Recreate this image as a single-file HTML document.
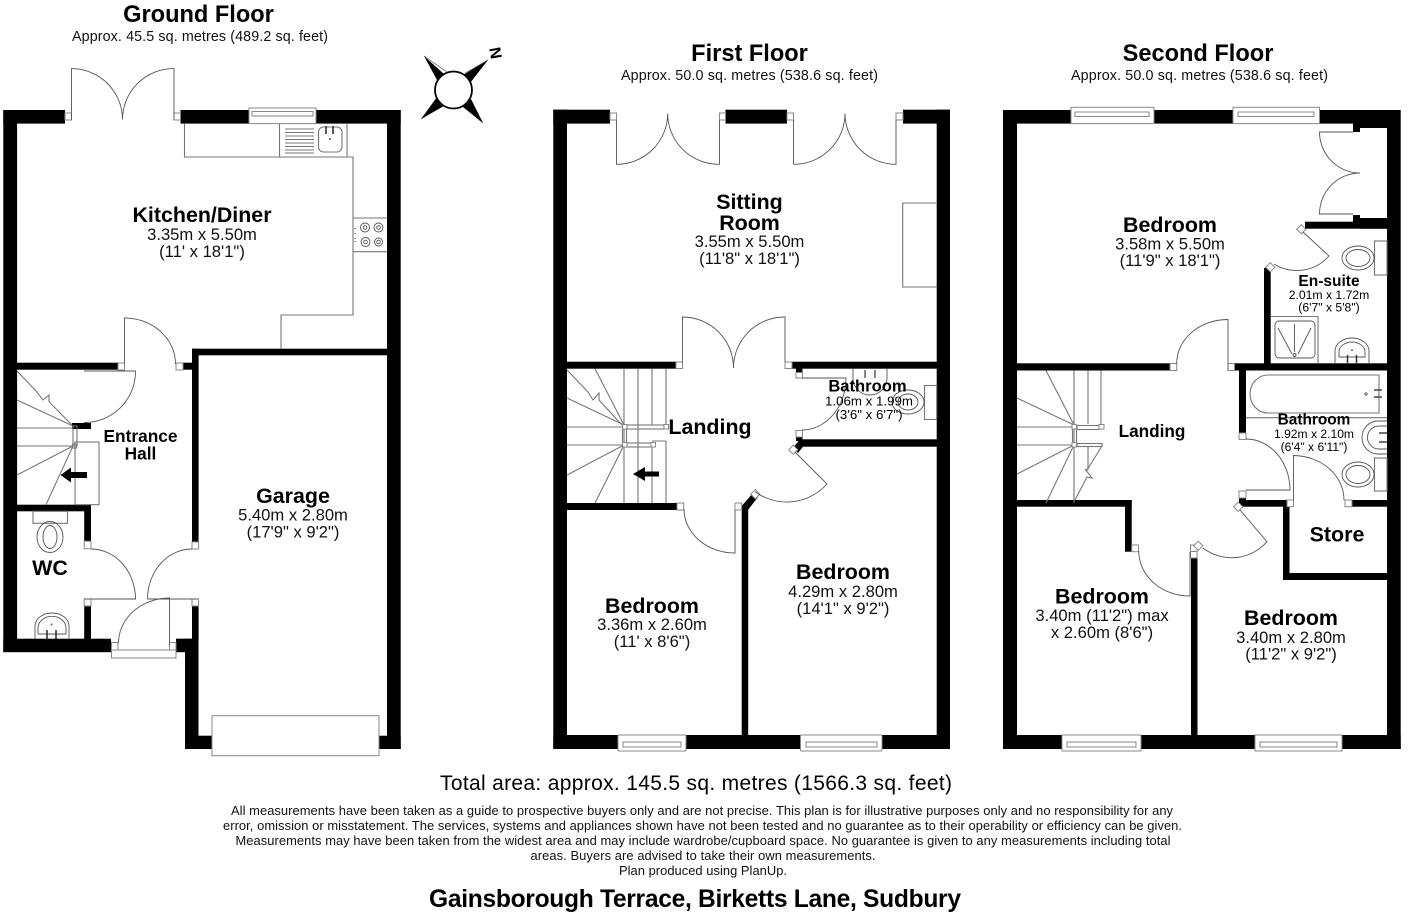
<!DOCTYPE html>
<html><head><meta charset="utf-8"><style>
html,body{margin:0;padding:0;background:#fff;width:1408px;height:912px;overflow:hidden}
svg{display:block}
text{font-family:"Liberation Sans",sans-serif;fill:#000;text-anchor:middle}
.b{font-weight:bold}
.w{fill:#000}
.l{fill:none;stroke:#777;stroke-width:1.1}
.j{fill:#fff;stroke:#888;stroke-width:1}
.d{fill:none;stroke:#555;stroke-width:.9}
.r{font-size:21.4px;font-weight:bold}
.s{font-size:16.6px;fill:#111}
.ti{font-size:23.6px;font-weight:bold}
.ap{font-size:14.3px;fill:#111}
.ds{font-size:12.9px;fill:#111}
</style></head><body>
<svg width="1408" height="912" viewBox="0 0 1408 912" xmlns="http://www.w3.org/2000/svg">

<!-- ================= GROUND FLOOR ================= -->
<g class="w">
<rect x="3.3" y="110" width="13.8" height="542"/>
<rect x="3.3" y="110" width="61.7" height="13.6"/>
<rect x="180.5" y="110" width="68.5" height="13.6"/>
<rect x="316" y="110" width="84.7" height="13.6"/>
<rect x="387" y="110" width="13.7" height="639"/>
<rect x="192" y="348.7" width="195" height="6.6"/>
<rect x="192" y="348.7" width="6.6" height="193.5"/>
<rect x="17" y="362.7" width="101" height="7"/>
<rect x="183" y="362.7" width="9" height="7"/>
<rect x="17" y="504.7" width="74" height="6.6"/>
<rect x="84.2" y="504.7" width="6.8" height="36.5"/>
<rect x="84.2" y="606" width="6.8" height="33"/>
<rect x="3.3" y="638.7" width="107.7" height="13.5"/>
<rect x="176" y="638.7" width="22.5" height="13.5"/>
<rect x="192" y="606" width="6.6" height="33"/>
<rect x="185" y="638.7" width="13.5" height="110.3"/>
<rect x="185" y="735.7" width="27" height="13.3"/>
<rect x="379" y="735.7" width="21.7" height="13.3"/>
<rect x="72" y="423" width="19" height="6"/>
</g>
<!-- jambs -->
<rect class="j" x="65" y="113" width="6.5" height="7"/>
<rect class="j" x="174" y="113" width="6.5" height="7"/>
<rect class="j" x="118" y="363" width="6.5" height="7"/>
<rect class="j" x="176" y="363" width="7" height="7"/>
<rect class="j" x="84.2" y="541.2" width="6.8" height="7.5"/>
<rect class="j" x="84.2" y="599" width="6.8" height="7"/>
<rect class="j" x="192" y="542" width="6.6" height="7"/>
<rect class="j" x="192" y="599" width="6.6" height="7"/>
<rect class="j" x="111.5" y="642.5" width="6.5" height="7.5"/>
<rect class="j" x="169.5" y="642.5" width="6.5" height="7.5"/>
<!-- doors -->
<path class="d" d="M71.5 120V68.6A51 51 0 0 1 122.5 119.5M174 120V68.6A51 51 0 0 0 122.5 119.5"/>
<path class="d" d="M124.5 364V318A51 46 0 0 1 175.5 364"/>
<path class="d" d="M84 371H135.5A51 51 0 0 1 84 422.5"/>
<path class="d" d="M91 549A44.5 50 0 0 1 135.5 599H84M198 599H147.5M192 549A44.5 50 0 0 0 147.5 599"/>
<path class="d" d="M118.5 643A51 45 0 0 1 169.5 598V645"/>
<!-- window top ground -->
<rect class="j" x="249" y="108" width="67" height="15.6"/>
<rect class="j" x="252" y="111.5" width="61" height="4.5"/>
<!-- front window -->
<rect class="j" x="111.5" y="650" width="64.5" height="8"/>
<!-- garage door -->
<rect class="j" x="212" y="715.7" width="167" height="40"/>
<!-- kitchen units -->
<path class="l" d="M184.5 123.6V157H353V315H281V349"/>
<path class="l" d="M279.5 124V157M347 124V157M353 218H387M353 251.7H387"/>
<path d="M285 129H314M285 132.5H314M285 136H314M285 139.5H314M285 143H314M285 146.5H314M285 150H314M285 153H314" stroke="#777" stroke-width=".9"/>
<rect class="l" x="318.5" y="127" width="23.5" height="25" rx="5"/>
<path d="M326 126V134M333 126V134" stroke="#333" stroke-width="1.6"/>
<circle cx="330" cy="139" r="1" fill="#555"/>
<g class="d"><circle cx="365" cy="227.5" r="4.5"/><circle cx="365" cy="227.5" r="1.8"/><circle cx="378.5" cy="227.5" r="4.5"/><circle cx="378.5" cy="227.5" r="1.8"/><circle cx="365.5" cy="242" r="4.5"/><circle cx="365.5" cy="242" r="1.8"/><circle cx="378.5" cy="242" r="4"/><circle cx="378.5" cy="242" r="1.8"/></g>
<path d="M355 228v1M355 233v1M355 238v1M355 241v1" stroke="#444" stroke-width="1.1"/>
<!-- stairs ground -->
<g class="l">
<path d="M17 371L36.700 391.700L43 400L49 395L49 401.700L72 425"/>
<path d="M73 426L17 400M73 428H17M73 446H17M73 446L17 475M73 446L46 504.7"/>
<rect x="75" y="442" width="24" height="62.7"/>
<rect x="73" y="426" width="4" height="20"/>
<rect x="72.5" y="444" width="4" height="4"/>
</g>
<path d="M87 472H71V467.5L60.5 475L71 482.5V478H87Z" fill="#000"/>
<!-- WC -->
<rect class="l" x="33" y="511.3" width="34.5" height="12"/>
<ellipse class="d" cx="50" cy="537" rx="13" ry="15.5"/>
<ellipse class="d" cx="50" cy="537" rx="7" ry="11.5"/>
<path class="d" d="M35 639V626A17 13 0 0 1 69 626V639"/>
<path class="d" d="M38 634V628A12 10 0 0 1 66 628V634H38"/>
<path d="M47 630V639M56 630V639" stroke="#333" stroke-width="1.6"/>
<circle cx="51.5" cy="624.5" r="1" fill="#666"/>

<!-- ================= FIRST FLOOR ================= -->
<g class="w">
<rect x="553.3" y="109.7" width="13.7" height="639.3"/>
<rect x="553.3" y="109.7" width="56.7" height="13.9"/>
<rect x="725.5" y="109.7" width="61.5" height="13.9"/>
<rect x="903" y="109.7" width="47" height="13.9"/>
<rect x="936.7" y="109.7" width="13.3" height="639.3"/>
<rect x="567" y="361.7" width="109" height="7"/>
<rect x="792" y="361.7" width="145" height="7"/>
<rect x="796" y="368" width="6.5" height="5"/>
<rect x="800" y="439.3" width="137" height="7.4"/>
<rect x="796" y="437" width="6.5" height="4"/>
<path d="M801 438L806 443L798 453L793 448Z"/>
<rect x="567" y="503" width="110" height="7"/>
<rect x="741.7" y="505" width="6.5" height="235"/>
<path d="M753 493L758 497L748 510L741.7 506Z"/>
<rect x="553.3" y="735" width="64.7" height="14"/>
<rect x="686" y="735" width="114.5" height="14"/>
<rect x="882" y="735" width="68" height="14"/>
</g>
<rect class="j" x="610" y="113" width="6.5" height="7"/>
<rect class="j" x="719.5" y="113" width="6" height="7"/>
<rect class="j" x="787" y="113" width="6.5" height="7"/>
<rect class="j" x="896" y="113" width="7" height="7"/>
<rect class="j" x="676" y="362" width="6.5" height="6.5"/>
<rect class="j" x="785" y="362" width="7" height="6.5"/>
<rect class="j" x="796" y="372.5" width="6.5" height="5.5"/>
<rect class="j" x="796" y="430.5" width="6.5" height="6.5"/>
<rect class="j" x="677" y="503" width="6.7" height="7"/>
<rect class="j" x="735" y="503" width="6.7" height="7"/>
<rect class="j" x="790" y="446.5" width="6.5" height="6.5" transform="rotate(45 793.25 449.75)"/>
<rect class="j" x="752" y="491" width="6.5" height="6.5" transform="rotate(45 755.25 494.25)"/>
<path class="d" d="M616.5 120V164.3A51 51 0 0 0 667.7 113.5A51 51 0 0 0 719.5 164.3V120"/>
<path class="d" d="M793.5 120V164.3A51 51 0 0 0 845 113.5A51 51 0 0 0 896 164.3V120"/>
<path class="d" d="M682.5 362V317A51 51 0 0 1 733.5 368A51 51 0 0 1 785 317V362"/>
<path class="d" d="M802 430A44 52 0 0 0 846 378H802"/>
<path class="d" d="M795 452L827 484A54 54 0 0 1 755 491.7"/>
<path class="d" d="M735 510V553A51 44 0 0 1 684 509"/>
<!-- fireplace -->
<path class="l" d="M936.7 203H902.7V287H936.7"/>
<!-- stairs first -->
<g class="l">
<path d="M624 368.7V503M638 368.7V503M652 368.7V425M652 447V503M666 368.7V425M666 441V503M652 441H666"/>
<path d="M567 370L588 392L593 400L599 393L599 400L622 425M624 425L595 368.7M624 425L567 398M624 427H567M624 445H567M624 445L567 475M624 445L595 503"/>
<rect x="627" y="425" width="37" height="4"/>
<rect x="627" y="443" width="24" height="4"/>
<rect x="622.5" y="428" width="4" height="16"/>
</g>
<rect class="j" x="622.5" y="424.5" width="4.5" height="4.5"/>
<rect class="j" x="622.5" y="442.5" width="4.5" height="4.5"/>
<rect class="j" x="664" y="424.5" width="4.5" height="4.5"/>
<rect class="j" x="651" y="442.5" width="4.5" height="4.5"/>
<path d="M659 471.5H645V467L633 474L645 481V476.500H659Z" fill="#000"/>
<!-- bathroom fittings -->
<path class="d" d="M853 368.7V378A15 15 0 0 0 887 378V368.7"/>
<path d="M865 370V378M875 370V378" stroke="#444" stroke-width="1.3"/>
<rect class="l" x="924.5" y="385.5" width="12.2" height="34"/>
<ellipse class="d" cx="908" cy="402" rx="16" ry="12"/>
<ellipse class="d" cx="908" cy="402" rx="10" ry="8"/>
<!-- windows -->
<rect class="j" x="618" y="735" width="68" height="16" rx="1"/>
<rect class="j" x="623" y="742" width="58" height="5"/>
<rect class="j" x="800.5" y="735" width="81.5" height="16" rx="1"/>
<rect class="j" x="806" y="742" width="71" height="5"/>

<!-- ================= SECOND FLOOR ================= -->
<g class="w">
<rect x="1003" y="110" width="14" height="639"/>
<rect x="1003" y="110" width="397" height="13.6"/>
<rect x="1360" y="110" width="40" height="18"/>
<rect x="1353" y="110" width="7" height="22"/>
<rect x="1387" y="110" width="13.7" height="639"/>
<rect x="1305" y="221.7" width="82" height="7"/>
<rect x="1353" y="215" width="7" height="10"/>
<rect x="1360" y="218" width="27" height="10.7"/>
<rect x="1264" y="268" width="6.7" height="96"/>
<rect x="1017" y="363.3" width="153" height="7.2"/>
<rect x="1234" y="363.3" width="153" height="7.2"/>
<rect x="1239" y="370" width="7" height="63"/>
<rect x="1017" y="500" width="114.7" height="6.7"/>
<rect x="1125" y="500" width="6.7" height="51.7"/>
<rect x="1191" y="558" width="6.5" height="180"/>
<rect x="1239" y="498" width="7" height="6"/>
<rect x="1239" y="500" width="44" height="6.7"/>
<rect x="1283" y="500" width="6.5" height="80"/>
<rect x="1283" y="573" width="104" height="7"/>
<rect x="1352" y="500" width="35" height="6.7"/>
<rect x="1003" y="735" width="59" height="14"/>
<rect x="1141" y="735" width="114" height="14"/>
<rect x="1342" y="735" width="58.7" height="14"/>
</g>
<rect class="j" x="1071" y="107.3" width="83" height="16.3"/>
<rect class="j" x="1075" y="112" width="74" height="4.5"/>
<rect class="j" x="1233" y="107.3" width="86.5" height="16.3"/>
<rect class="j" x="1238" y="112" width="76" height="4.5"/>
<rect class="j" x="1062" y="735" width="79" height="16"/>
<rect class="j" x="1067" y="742" width="69" height="5"/>
<rect class="j" x="1255" y="735" width="87" height="16"/>
<rect class="j" x="1260" y="742" width="77" height="5"/>
<!-- jambs -->
<rect class="j" x="1170" y="363.5" width="6.7" height="7"/>
<rect class="j" x="1228" y="363.5" width="6.5" height="7"/>
<rect class="j" x="1239" y="433" width="7" height="6.5"/>
<rect class="j" x="1239" y="491" width="7" height="7"/>
<rect class="j" x="1287" y="500" width="6.5" height="6.7"/>
<rect class="j" x="1345" y="500" width="7" height="6.7"/>
<rect class="j" x="1131.7" y="545" width="6.8" height="6.7"/>
<rect class="j" x="1190.5" y="545" width="6.5" height="6.5"/>
<rect class="j" x="1190.5" y="551.5" width="6.5" height="6.5"/>
<rect class="j" x="1298" y="226" width="6.5" height="6.5" transform="rotate(45 1301.25 229.25)"/>
<rect class="j" x="1267" y="264" width="6.5" height="6.5" transform="rotate(45 1270.25 267.25)"/>
<rect class="j" x="1235" y="503.5" width="6.5" height="6.5" transform="rotate(45 1238.25 506.75)"/>
<rect class="j" x="1195" y="542.5" width="6.5" height="6.5" transform="rotate(45 1198.25 545.75)"/>
<!-- doors -->
<path class="d" d="M1353 132H1319.5A40.5 41 0 0 0 1360 173A40.5 41 0 0 0 1319.5 214H1353"/>
<path class="d" d="M1303 232L1329 256A43 43 0 0 1 1274 264"/>
<path class="d" d="M1228 370V319.5A51 44 0 0 0 1176.7 364"/>
<path class="d" d="M1246 439A44 51 0 0 1 1290 490H1246"/>
<path class="d" d="M1293.5 500V455.5A51 44.5 0 0 1 1344 500"/>
<path class="d" d="M1138.7 551A51 45 0 0 0 1190 596V552"/>
<path class="d" d="M1240 510L1267 541.7A47 47 0 0 1 1203 548"/>
<!-- ensuite fittings -->
<rect class="l" x="1374.5" y="241" width="12.5" height="34"/>
<ellipse class="d" cx="1358" cy="258" rx="16" ry="12"/>
<ellipse class="d" cx="1358" cy="258" rx="12" ry="8.5"/>
<path class="l" d="M1270.7 316.5H1318V363.3"/>
<rect class="d" x="1275" y="321" width="40" height="37" rx="4"/>
<path class="d" d="M1278 328L1292 354M1294.5 324V352M1311 328L1298 354"/>
<circle class="d" cx="1294.5" cy="355" r="1.5"/>
<path class="d" d="M1335 363V351A17 13 0 0 1 1369 351V363"/>
<path class="d" d="M1339 357V352A13 10 0 0 1 1365 352V357H1339"/>
<path d="M1347.5 355V363M1356.5 355V363" stroke="#333" stroke-width="1.5"/>
<circle cx="1352" cy="350" r="1" fill="#666"/>
<!-- bathroom fittings -->
<path class="l" d="M1379 375H1268A18 19 0 0 0 1268 413H1379Z"/>
<path class="l" d="M1246 417.7H1387"/>
<path d="M1374 390H1382M1374 397H1382" stroke="#444" stroke-width="1.6"/>
<circle class="d" cx="1366" cy="394" r="1.2"/>
<path class="d" d="M1387 421H1378A16 16.5 0 0 0 1378 454H1387"/>
<path class="d" d="M1387 426H1379A11 11 0 0 0 1379 449H1387"/>
<path d="M1379 433H1387M1379 442H1387" stroke="#444" stroke-width="1.5"/>
<rect class="l" x="1374.5" y="458" width="12.5" height="33"/>
<ellipse class="d" cx="1358" cy="474.5" rx="16" ry="12.5"/>
<ellipse class="d" cx="1358" cy="474.5" rx="12" ry="9"/>
<!-- stairs second -->
<g class="l">
<path d="M1074 370.5V503M1088 370.5V424M1101 370.5V424M1088 447V470"/>
<path d="M1074 425L1046 370.5M1074 425L1017 398M1074 427H1017M1074 445H1017M1074 445L1017 474M1074 445L1046 503"/>
<rect x="1077" y="425.500" width="22" height="4"/>
<rect x="1077" y="443.500" width="25" height="3"/>
<rect x="1072.5" y="428" width="4" height="16"/>
<path d="M1102 446L1087 470L1085 469L1092 478L1087 477L1075 500"/>
</g>
<rect class="j" x="1072" y="424.5" width="4.5" height="4.5"/>
<rect class="j" x="1072" y="442.5" width="4.5" height="4.5"/>
<rect class="j" x="1099" y="424.5" width="5" height="4.5"/>

<!-- compass -->
<g>
<path d="M424 56L447 72M488 60L465 73M421 119L443 105M483 123L463 106" stroke="#888" stroke-width="1" fill="none"/>
<path d="M424 56L437 80L444 74Z M488 60L463 75L470 83Z M421 119L444 106L437 97Z M483 123L471 99L463 107Z" fill="#000"/>
<circle cx="453.5" cy="90" r="18.5" fill="#fff" stroke="#000" stroke-width="1.8"/>
<text x="0" y="0" font-size="16" class="b" transform="translate(501 52) rotate(-100)">N</text>
</g>

<!-- ================= TEXT ================= -->
<text x="198.5" y="22" class="ti">Ground Floor</text>
<text x="200" y="41" class="ap" textLength="256">Approx. 45.5 sq. metres (489.2 sq. feet)</text>
<text x="749.5" y="61" class="ti">First Floor</text>
<text x="749.5" y="80" class="ap" textLength="257">Approx. 50.0 sq. metres (538.6 sq. feet)</text>
<text x="1198" y="61" class="ti">Second Floor</text>
<text x="1199.5" y="80" class="ap" textLength="257">Approx. 50.0 sq. metres (538.6 sq. feet)</text>

<text x="202" y="222" class="r">Kitchen/Diner</text>
<text x="202" y="240" class="s">3.35m x 5.50m</text>
<text x="202" y="257" class="s">(11' x 18'1")</text>
<text x="140.5" y="442" class="b" font-size="17.3">Entrance</text>
<text x="140.5" y="459.5" class="b" font-size="17.3">Hall</text>
<text x="50" y="575" class="r">WC</text>
<text x="293" y="503" class="r">Garage</text>
<text x="293" y="520.5" class="s">5.40m x 2.80m</text>
<text x="293" y="537.5" class="s">(17'9" x 9'2")</text>

<text x="749.5" y="209" class="r">Sitting</text>
<text x="749.5" y="230" class="r">Room</text>
<text x="749.5" y="247" class="s">3.55m x 5.50m</text>
<text x="749.5" y="264" class="s">(11'8" x 18'1")</text>
<text x="710" y="434" class="r">Landing</text>
<text x="867.5" y="391.5" class="b" font-size="16.6">Bathroom</text>
<text x="869" y="405.5" font-size="13.3" fill="#111">1.06m x 1.99m</text>
<text x="869" y="419" font-size="13.3" fill="#111">(3'6" x 6'7")</text>
<text x="652" y="613" class="r">Bedroom</text>
<text x="652" y="630" class="s">3.36m x 2.60m</text>
<text x="652" y="647" class="s">(11' x 8'6")</text>
<text x="843" y="579" class="r">Bedroom</text>
<text x="843" y="597" class="s">4.29m x 2.80m</text>
<text x="843" y="614" class="s">(14'1" x 9'2")</text>

<text x="1170" y="232" class="r">Bedroom</text>
<text x="1170" y="249.5" class="s">3.58m x 5.50m</text>
<text x="1170" y="266" class="s">(11'9" x 18'1")</text>
<text x="1329" y="286" class="b" font-size="15.5">En-suite</text>
<text x="1329" y="299" font-size="12.2" fill="#111">2.01m x 1.72m</text>
<text x="1329" y="311.5" font-size="12.2" fill="#111">(6'7" x 5'8")</text>
<text x="1152" y="437" class="b" font-size="17.2">Landing</text>
<text x="1314" y="424.5" class="b" font-size="15.4">Bathroom</text>
<text x="1314" y="438" font-size="12.1" fill="#111">1.92m x 2.10m</text>
<text x="1314" y="451" font-size="12.1" fill="#111">(6'4" x 6'11")</text>
<text x="1337" y="541.5" class="r">Store</text>
<text x="1102" y="603.5" class="r">Bedroom</text>
<text x="1102" y="621" class="s">3.40m (11'2") max</text>
<text x="1102" y="638" class="s">x 2.60m (8'6")</text>
<text x="1291" y="625" class="r">Bedroom</text>
<text x="1291" y="643" class="s">3.40m x 2.80m</text>
<text x="1291" y="659.5" class="s">(11'2" x 9'2")</text>

<text x="696" y="790" font-size="21" textLength="512">Total area: approx. 145.5 sq. metres (1566.3 sq. feet)</text>
<text x="702" y="815" class="ds" textLength="942">All measurements have been taken as a guide to prospective buyers only and are not precise. This plan is for illustrative purposes only and no responsibility for any</text>
<text x="702.5" y="830" class="ds" textLength="959">error, omission or misstatement. The services, systems and appliances shown have not been tested and no guarantee as to their operability or efficiency can be given.</text>
<text x="703" y="845" class="ds" textLength="935">Measurements may have been taken from the widest area and may include wardrobe/cupboard space. No guarantee is given to any measurements including total</text>
<text x="703" y="860" class="ds" textLength="345">areas. Buyers are advised to take their own measurements.</text>
<text x="703" y="875" class="ds" textLength="168">Plan produced using PlanUp.</text>
<text x="695" y="907" class="b" font-size="24.6" textLength="532">Gainsborough Terrace, Birketts Lane, Sudbury</text>
</svg>
</body></html>
